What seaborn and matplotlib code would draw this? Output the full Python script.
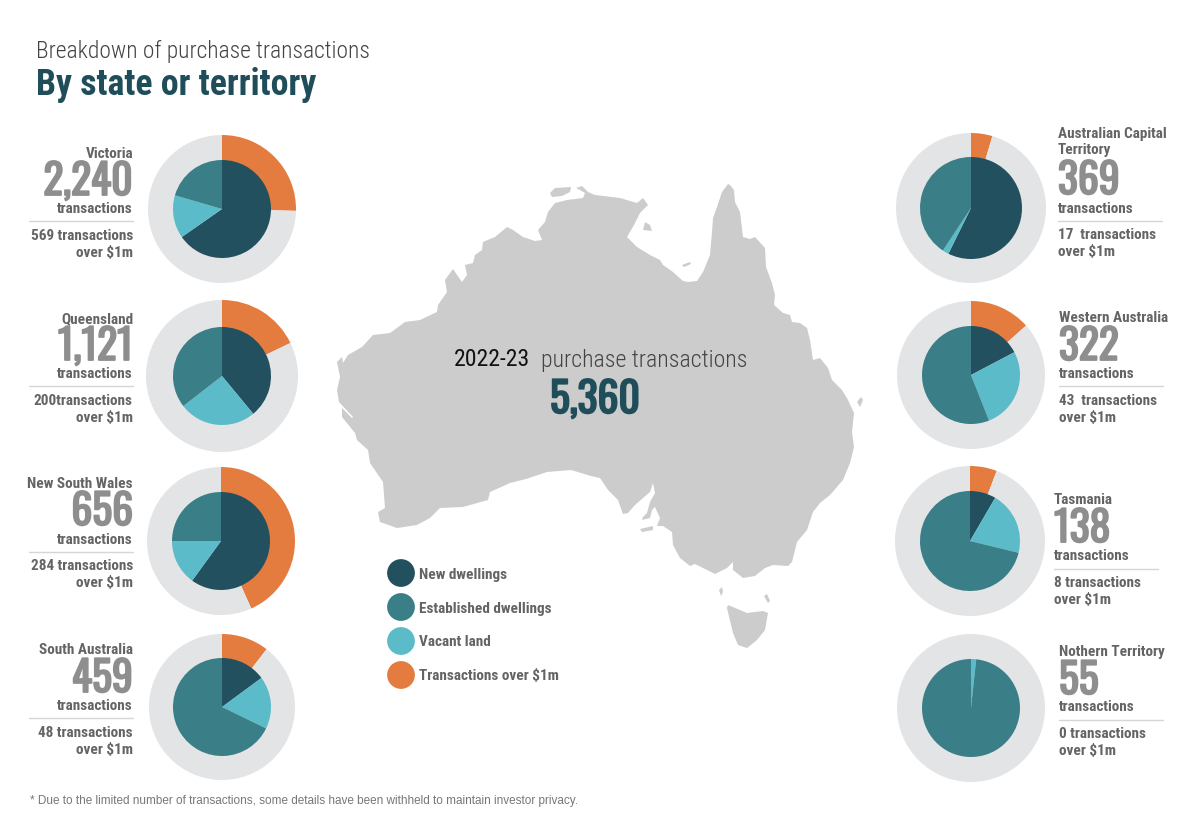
import matplotlib
matplotlib.use('Agg')
import matplotlib.pyplot as plt
import matplotlib.patheffects as pe
import seaborn as sns

# Purchase transactions by state
states = ['Victoria', 'Queensland', 'New South Wales', 'South Australia',
          'Australian Capital\nTerritory', 'Western Australia', 'Tasmania', 'Nothern Territory']
total_labels = ['2,240', '1,121', '656', '459', '369', '322', '138', '55']
over_labels = ['569 transactions', '200transactions', '284 transactions', '48 transactions',
               '17  transactions', '43  transactions', '8 transactions', '0 transactions']
totals = [2240, 1121, 656, 459, 369, 322, 138, 55]
over_1m = [569, 200, 284, 48, 17, 43, 8, 0]

# Share of each state's transactions (percent)
new_dwellings = [65.3, 39.0, 60.0, 14.9, 57.3, 17.3, 8.4, 0.0]
vacant_land = [14.2, 25.5, 15.0, 17.3, 2.0, 26.7, 20.4, 1.7]
established = [20.5, 35.5, 25.0, 67.8, 40.7, 56.0, 71.2, 98.3]

legend_labels = ['New dwellings', 'Established dwellings', 'Vacant land', 'Transactions over $1m']

# Map outline, traced in picture pixels
mainland = [
    (507, 227), (513, 230), (523, 237), (535, 241), (542, 240), (538, 230), (545, 222), (548, 212), (555, 203),
    (567, 200), (583, 198), (585, 193), (580, 190), (576, 188), (582, 186), (588, 192), (595, 195), (620, 198),
    (637, 203), (643, 198), (648, 205), (640, 213), (634, 225), (627, 237), (637, 247), (650, 255), (660, 260),
    (663, 265), (673, 272), (683, 281), (688, 282), (697, 281), (703, 272), (710, 255), (712, 232), (713, 218),
    (717, 207), (722, 192), (728, 184),
    (730, 185), (734, 190), (735, 202), (740, 212), (743, 237), (750, 239), (755, 237), (765, 248), (766, 267),
    (772, 283), (775, 295), (774, 305), (783, 313), (790, 315), (792, 322), (800, 323), (807, 328), (810, 340),
    (813, 360), (820, 358), (828, 368), (832, 380), (842, 390), (848, 400), (854, 413), (852, 432), (854, 447),
    (850, 463), (843, 480), (830, 495),
    (820, 503), (813, 512), (807, 530), (797, 542), (792, 562), (788, 566), (773, 565), (765, 568), (755, 576),
    (743, 578), (733, 570), (733, 562), (727, 568), (715, 574), (695, 564), (690, 566), (680, 558), (673, 545),
    (672, 532), (663, 526), (657, 526), (660, 518), (655, 507), (652, 510), (650, 518), (642, 520), (643, 517),
    (647, 513), (650, 502), (655, 493), (653, 483), (650, 492), (643, 498), (635, 505), (628, 513), (623, 514),
    (618, 500), (608, 490), (600, 478), (591, 476), (571, 470), (547, 472), (526, 479), (510, 483),
    (490, 492), (488, 500), (463, 507), (440, 508), (430, 518), (417, 525), (397, 528), (380, 522), (378, 512),
    (385, 508), (383, 482), (370, 463), (368, 450), (357, 440), (355, 433), (342, 417), (342, 408), (352, 418),
    (353, 417), (339, 402), (337, 390), (340, 377), (337, 362), (342, 357), (343, 363), (348, 355), (362, 347),
    (373, 335), (390, 333), (405, 322), (420, 320), (437, 312), (438, 305), (447, 292), (445, 280), (453, 269),
    (462, 282), (467, 275), (465, 265), (473, 263), (475, 255), (482, 250), (483, 242), (495, 237),
]
islands = [
    [(727, 608), (728, 605), (747, 613), (763, 611), (768, 613), (765, 630), (757, 640), (747, 648), (738, 645), (733, 633)],
    [(550, 193), (555, 188), (571, 187), (570, 192), (562, 196), (552, 197)],
    [(643, 230), (645, 222), (650, 225), (652, 231)],
    [(682, 265), (690, 262), (691, 264), (684, 267)],
    [(857, 402), (861, 397), (863, 400), (860, 407)],
    [(640, 529), (653, 526), (653, 530), (642, 532)],
    [(719, 590), (722, 587), (723, 592), (721, 596)],
    [(764, 596), (767, 594), (770, 601), (768, 603)],
]

# Colours
c_new = '#22505F'
c_est = '#3A7E88'
c_vac = '#5BBBC9'
c_over = '#E57C3F'
c_ring = '#E3E4E6'
c_map = '#CCCCCC'
c_teal = '#1F4E5A'
c_label = '#636466'
c_big = '#8E8E8E'

sns.set_theme(style='white')
plt.rcParams['font.family'] = ['Roboto Condensed', 'Liberation Sans', 'DejaVu Sans']
big_font = ['Oswald', 'Roboto Condensed', 'Liberation Sans']

fig = plt.figure(figsize=(12, 8.35), dpi=100)
ax = fig.add_axes([0, 0, 1, 1])


def py(y):
    # picture y (from the top) to axes y
    return 835 - y


def heavy(color):
    # Oswald only comes in its regular weight here, thicken it with a stroke
    return [pe.withStroke(linewidth=1.3, foreground=color)]


# Map
for shape in [mainland] + islands:
    ax.fill([p[0] for p in shape], [py(p[1]) for p in shape], color=c_map, lw=0)

# Pies: centre x, centre y, ring radius, inner radius
pie_layout = [(222, 209, 74, 49), (222, 376, 76, 49), (221, 541, 74, 49), (222, 707, 73, 49),
              (971, 208, 75, 51), (971, 375, 74, 49), (970, 541, 75, 50), (971, 708, 74, 49)]

for i, (cx, cy, r_out, r_in) in enumerate(pie_layout):
    ax.pie([over_1m[i], totals[i] - over_1m[i]], colors=[c_over, c_ring], startangle=90,
           counterclock=False, center=(cx, py(cy)), radius=r_out, wedgeprops={'linewidth': 0})
    ax.pie([new_dwellings[i], vacant_land[i], established[i]], colors=[c_new, c_vac, c_est],
           startangle=90, counterclock=False, center=(cx, py(cy)), radius=r_in, wedgeprops={'linewidth': 0})

# Text blocks: x, align, y of name, number baseline, "transactions", rule, two lines below
text_layout = [
    (133, 'right', 154, 195, 209, 221, 236, 253),
    (133, 'right', 319, 360, 374, 386, 401, 418),
    (133, 'right', 484, 525, 540, 552, 566, 583),
    (133, 'right', 650, 692, 706, 718, 733, 750),
    (1058, 'left', 142, 194, 209, 221, 235, 252),
    (1059, 'left', 318, 360, 374, 386, 401, 418),
    (1054, 'left', 500, 542, 556, 569, 583, 600),
    (1059, 'left', 652, 694, 707, 720, 734, 751),
]
for i, (x, ha, y_name, y_num, y_tr, y_rule, y_a, y_b) in enumerate(text_layout):
    ax.text(x, py(y_name), states[i], ha=ha, va='center', fontsize=11, fontweight='bold',
            color=c_label, linespacing=1.2)
    ax.text(x, py(y_num), total_labels[i], ha=ha, va='baseline', fontsize=30,
            color=c_big, family=big_font, path_effects=heavy(c_big))
    ax.text(x, py(y_tr), 'transactions', ha=ha, va='center', fontsize=11, fontweight='bold', color=c_label)
    line_x = [x - 104, x] if ha == 'right' else [x, x + 104]
    ax.plot(line_x, [py(y_rule), py(y_rule)], color='#D5D6D8', lw=1)
    ax.text(x, py(y_a), over_labels[i], ha=ha, va='center', fontsize=11, fontweight='bold', color=c_label)
    ax.text(x, py(y_b), 'over $1m', ha=ha, va='center', fontsize=11, fontweight='bold', color=c_label)

# Title and centre text
ax.text(36, py(51), 'Breakdown of purchase transactions', fontsize=16.9, fontweight='light', color='#444444', va='center')
ax.text(36, py(85), 'By state or territory', fontsize=25.8, fontweight='bold', color=c_teal, va='center')
ax.text(454, py(360), '2022-23', fontsize=17.1, color='#111111', va='center')
ax.text(541, py(360), 'purchase transactions', fontsize=17.1, fontweight='light', color='#444444', va='center')
ax.text(595, py(413), '5,360', fontsize=30, color=c_teal, ha='center', va='baseline', family=big_font,
        path_effects=heavy(c_teal))
ax.text(30, py(801), '* Due to the limited number of transactions, some details have been withheld to maintain investor privacy.',
        fontsize=8.45, color='#777777', va='center', family=['Liberation Sans', 'DejaVu Sans'])

ax.set_xlim(0, 1200)
ax.set_ylim(0, 835)
ax.set_aspect('auto')
ax.axis('off')

# Legend: dots from seaborn, names as tick labels
leg_ax = fig.add_axes([384 / 1200, 1 - 692 / 835, 34 / 1200, 136 / 835])
sns.scatterplot(x=[0, 0, 0, 0], y=legend_labels, hue=legend_labels, clip_on=False,
                palette=[c_new, c_est, c_vac, c_over], s=400, linewidth=0, legend=False, ax=leg_ax)
leg_ax.set_ylim(3.5, -0.5)
leg_ax.set_xlim(-1, 1)
leg_ax.patch.set_alpha(0)
sns.despine(ax=leg_ax, left=True, bottom=True)
leg_ax.set_xticks([])
leg_ax.yaxis.tick_right()
leg_ax.tick_params(axis='y', length=0, pad=1)
for lab in leg_ax.get_yticklabels():
    lab.set_fontsize(11)
    lab.set_fontweight('bold')
    lab.set_color(c_label)

fig.savefig('out.png', dpi=100)
